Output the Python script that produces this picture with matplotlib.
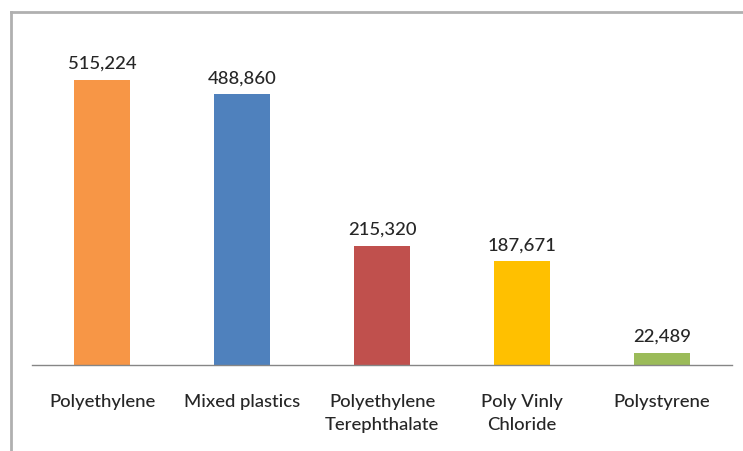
import matplotlib
matplotlib.use("Agg")
import matplotlib.pyplot as plt
from matplotlib.lines import Line2D

categories = ["Polyethylene", "Mixed plastics", "Polyethylene\nTerephthalate",
              "Poly Vinly\nChloride", "Polystyrene"]
values = [515224, 488860, 215320, 187671, 22489]
colors = ["#F79646", "#4F81BD", "#C0504D", "#FFC000", "#9BBB59"]

W, H = 743, 452
dpi = 100
fig = plt.figure(figsize=(W / dpi, H / dpi), dpi=dpi)
fig.patch.set_facecolor("white")

# plot area in pixel coordinates
left, right, top, bottom = 32, 732, 34, 366
ax = fig.add_axes([left / W, 1 - bottom / H, (right - left) / W, (bottom - top) / H])

font = ["Lato", "DejaVu Sans"]
text_color = "#262626"

x = range(len(values))
ax.bar(x, values, width=0.394, color=colors, zorder=2)
ax.set_xlim(-0.5, len(values) - 0.5)
ax.set_ylim(0, 600000)

for xi, v in zip(x, values):
    ax.annotate(f"{v:,}", (xi, v), xytext=(0, 6.5), textcoords="offset points",
                ha="center", va="bottom", fontsize=13.3, family=font,
                color=text_color, fontweight="medium")

ax.set_xticks(list(x))
ax.set_xticklabels(categories, fontsize=13.3, family=font, color=text_color,
                   linespacing=1.55, va="top", fontweight="medium")
ax.tick_params(axis="x", length=0, pad=20)
ax.set_yticks([])

for s in ["top", "right", "left"]:
    ax.spines[s].set_visible(False)
ax.spines["bottom"].set_color("#868686")
ax.spines["bottom"].set_linewidth(1.0)

# outer chart border (left and top edges)
bx, by = 11 / W, 1 - 13 / H
fig.add_artist(Line2D([bx, bx], [0, by], transform=fig.transFigure,
                      color="#B0B0B0", linewidth=2.0))
fig.add_artist(Line2D([bx, 1], [by, by], transform=fig.transFigure,
                      color="#B0B0B0", linewidth=2.0))

fig.savefig("out.png", dpi=dpi, facecolor="white")
